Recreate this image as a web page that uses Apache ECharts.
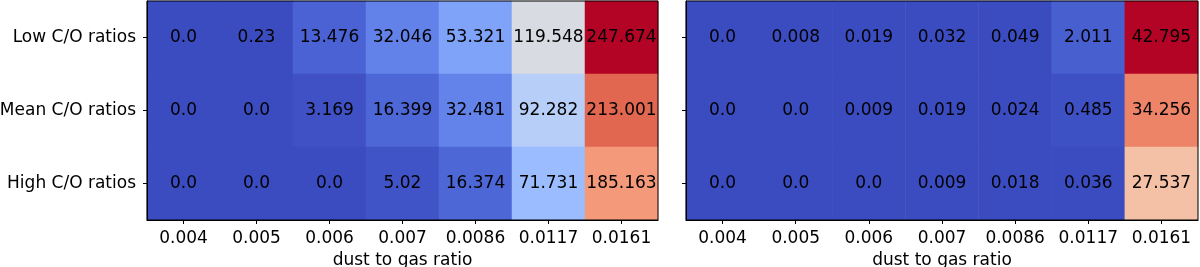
<!DOCTYPE html>
<html><head><meta charset="utf-8">
<script src="https://cdn.jsdelivr.net/npm/echarts@6/dist/echarts.min.js"></script>
<style>html,body{margin:0;padding:0;background:#fff}#c{width:1200px;height:267px}</style>
</head><body><div id="c"></div>
<script>
const xCategories = ['0.004','0.005','0.006','0.007','0.0086','0.0117','0.0161'];
const yCategories = ['Low C/O ratios','Mean C/O ratios','High C/O ratios'];
const leftLow  = [0.0, 0.23, 13.476, 32.046, 53.321, 119.548, 247.674];
const leftMean = [0.0, 0.0, 3.169, 16.399, 32.481, 92.282, 213.001];
const leftHigh = [0.0, 0.0, 0.0, 5.02, 16.374, 71.731, 185.163];
const rightLow  = [0.0, 0.008, 0.019, 0.032, 0.049, 2.011, 42.795];
const rightMean = [0.0, 0.0, 0.009, 0.019, 0.024, 0.485, 34.256];
const rightHigh = [0.0, 0.0, 0.0, 0.009, 0.018, 0.036, 27.537];
const xName = 'dust to gas ratio';

// matplotlib "coolwarm" sampled at k/14
const coolwarm = ['#3b4cc0','#4f69d9','#6788ee','#80a3fa','#9abbff','#b2ccfb','#c9d7f0','#dddcdc',
                  '#edd1c2','#f4c0a6','#f7a889','#f08a6c','#e26952','#cc403a','#b40426'];
const FONT = 'DejaVu Sans';
const FS = 17;

function build(rows){
  const d = [];
  rows.forEach((r, yi) => r.forEach((v, xi) => d.push([xi, yi, v])));
  return d;
}
function fmt(v){ return Number.isInteger(v) ? v.toFixed(1) : String(v); }
function maxOf(rows){ return Math.max(...rows.flat()); }

const leftRows = [leftLow, leftMean, leftHigh];
const rightRows = [rightLow, rightMean, rightHigh];

function xAxis(gi){
  return {type:'category', gridIndex:gi, data:xCategories, z:10,
    axisLine:{show:true, lineStyle:{color:'#000', width:1}},
    axisTick:{show:true, alignWithLabel:true, interval:0, length:4, lineStyle:{color:'#000'}},
    axisLabel:{color:'#000', fontFamily:FONT, fontSize:FS, margin:10, interval:0, hideOverlap:false},
    splitLine:{show:false},
    name:xName, nameLocation:'middle', nameGap:29,
    nameTextStyle:{color:'#000', fontFamily:FONT, fontSize:FS}};
}
function yAxis(gi, showLabel){
  return {type:'category', gridIndex:gi, data:yCategories, inverse:true, z:10,
    axisLine:{show:true, lineStyle:{color:'#000', width:1}},
    axisTick:{show:true, alignWithLabel:true, interval:0, length:4, lineStyle:{color:'#000'}},
    axisLabel:{show:showLabel, color:'#000', fontFamily:FONT, fontSize:FS, margin:11, interval:0},
    splitLine:{show:false}};
}
const labelCfg = {show:true, color:'#000', fontFamily:FONT, fontSize:FS, formatter:p => fmt(p.value[2])};

const chart = echarts.init(document.getElementById('c'), null, {renderer:'canvas'});
chart.setOption({
  animation:false,
  backgroundColor:'#fff',
  grid:[
    {left:147, top:1, width:511, height:219, containLabel:false, outerBoundsMode:'none', show:true, z:10, borderColor:'#000', borderWidth:1, backgroundColor:'transparent'},
    {left:686, top:1, width:512, height:219, containLabel:false, outerBoundsMode:'none', show:true, z:10, borderColor:'#000', borderWidth:1, backgroundColor:'transparent'}
  ],
  xAxis:[xAxis(0), xAxis(1)],
  yAxis:[yAxis(0,true), yAxis(1,false)],
  visualMap:[
    {type:'continuous', show:false, min:0, max:maxOf(leftRows), seriesIndex:0, inRange:{color:coolwarm}},
    {type:'continuous', show:false, min:0, max:maxOf(rightRows), seriesIndex:1, inRange:{color:coolwarm}}
  ],
  series:[
    {type:'heatmap', xAxisIndex:0, yAxisIndex:0, data:build(leftRows), label:labelCfg, itemStyle:{borderWidth:0}},
    {type:'heatmap', xAxisIndex:1, yAxisIndex:1, data:build(rightRows), label:labelCfg, itemStyle:{borderWidth:0}}
  ]
});
</script></body></html>
